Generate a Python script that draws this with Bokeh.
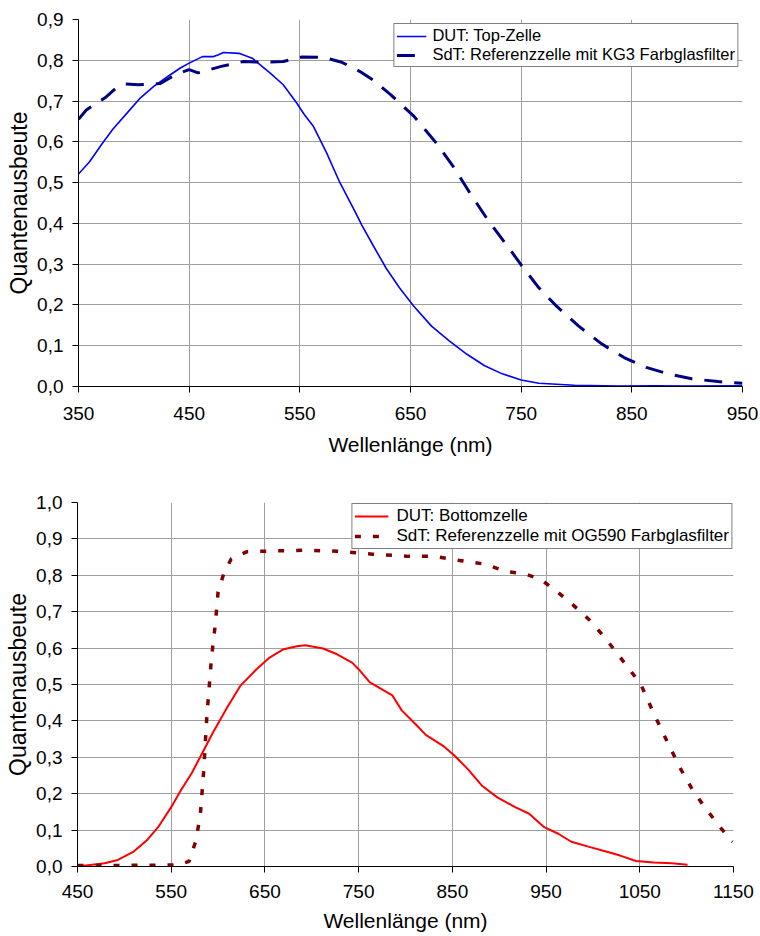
from bokeh.plotting import figure
from bokeh.models import Range1d, FixedTicker, CustomJSTickFormatter
from bokeh.embed import file_html
from bokeh.resources import INLINE

# ---------------- data: top chart ----------------
top_dut_wl = [350, 360, 371, 381, 394, 406, 418, 430, 442, 450, 462, 472, 476, 481,
              495, 507, 523, 535, 547, 554, 562, 574, 586, 600, 606, 616, 628, 640,
              653, 669, 685, 701, 717, 733, 750, 766, 798, 839, 870, 900, 950]
top_dut_qe = [0.521, 0.551, 0.594, 0.631, 0.671, 0.708, 0.736, 0.759, 0.781, 0.793,
              0.809, 0.809, 0.813, 0.819, 0.817, 0.805, 0.769, 0.740, 0.696, 0.667,
              0.639, 0.574, 0.501, 0.428, 0.396, 0.347, 0.290, 0.242, 0.197, 0.148,
              0.112, 0.079, 0.051, 0.031, 0.016, 0.008, 0.003, 0.001, 0.002, 0.001, 0.002]

top_ref_wl = [350, 357, 374, 384, 392, 404, 424, 438, 450, 458, 479, 499, 519, 535,
              552, 572, 588, 604, 616, 632, 653, 673, 689, 705, 721, 738, 750, 766,
              782, 802, 823, 843, 863, 883, 904, 928, 950]
top_ref_qe = [0.655, 0.678, 0.708, 0.732, 0.742, 0.740, 0.743, 0.765, 0.777, 0.769,
              0.785, 0.797, 0.795, 0.797, 0.808, 0.807, 0.795, 0.773, 0.752, 0.716,
              0.663, 0.598, 0.538, 0.469, 0.404, 0.343, 0.298, 0.242, 0.197, 0.148,
              0.104, 0.071, 0.047, 0.031, 0.019, 0.012, 0.008]

top_x_ticks = [350, 450, 550, 650, 750, 850, 950]
top_y_ticks = [0.0, 0.1, 0.2, 0.3, 0.4, 0.5, 0.6, 0.7, 0.8, 0.9]

# ---------------- data: bottom chart ----------------
bot_dut_wl = [450, 479, 493, 510, 524, 536, 550, 560, 572, 584, 595, 610, 624, 641,
              655, 669, 684, 693, 712, 727, 743, 750, 762, 774, 786, 796, 810, 822,
              841, 853, 867, 882, 898, 917, 932, 948, 963, 977, 996, 1013, 1029,
              1046, 1065, 1084, 1101]
bot_dut_qe = [0.000, 0.009, 0.018, 0.041, 0.072, 0.108, 0.163, 0.208, 0.257, 0.316,
              0.370, 0.438, 0.497, 0.542, 0.574, 0.596, 0.605, 0.608, 0.599, 0.583,
              0.560, 0.542, 0.506, 0.488, 0.470, 0.429, 0.393, 0.361, 0.330, 0.303,
              0.266, 0.221, 0.190, 0.163, 0.145, 0.108, 0.090, 0.068, 0.054, 0.042,
              0.030, 0.015, 0.011, 0.009, 0.005]

bot_ref_wl = [450, 500, 557, 569, 576, 581, 584.5, 588, 593, 597, 600, 606, 614, 631,
              660, 693, 727, 765, 803, 832, 851, 884, 908, 927, 944, 960, 979, 996,
              1013, 1032, 1051, 1065, 1080, 1094, 1108, 1122, 1137, 1149]
bot_ref_qe = [0.003, 0.003, 0.004, 0.014, 0.068, 0.140, 0.257, 0.411, 0.574, 0.664,
              0.754, 0.804, 0.845, 0.865, 0.867, 0.869, 0.866, 0.858, 0.852, 0.852,
              0.843, 0.831, 0.810, 0.804, 0.789, 0.759, 0.718, 0.678, 0.628, 0.565,
              0.501, 0.420, 0.339, 0.266, 0.203, 0.154, 0.104, 0.068]

bot_x_ticks = [450, 550, 650, 750, 850, 950, 1050, 1150]
bot_y_ticks = [0.0, 0.1, 0.2, 0.3, 0.4, 0.5, 0.6, 0.7, 0.8, 0.9, 1.0]

x_title = "Wellenlänge (nm)"
y_title = "Quantenausbeute"

FONT = "Liberation Sans"
GRID = "#a0a0a0"


def style(p, xticks, yticks):
    p.xaxis.ticker = FixedTicker(ticks=xticks)
    p.yaxis.ticker = FixedTicker(ticks=yticks)
    p.yaxis.formatter = CustomJSTickFormatter(code="return tick.toFixed(1).replace('.', ',');")
    for ax in (p.xaxis, p.yaxis):
        ax.major_label_text_font = FONT
        ax.major_label_text_font_size = "19px"
        ax.major_label_text_color = "black"
        ax.axis_label_text_font = FONT
        ax.axis_label_text_font_style = "normal"
        ax.axis_label_text_color = "black"
        ax.axis_line_color = "black"
        ax.major_tick_line_color = "black"
        ax.major_tick_in = 0
        ax.major_tick_out = 6
        ax.minor_tick_line_color = None
    p.xaxis.axis_label_text_font_size = "21px"
    p.yaxis.axis_label_text_font_size = "23px"
    p.yaxis.major_label_standoff = 9
    p.yaxis.axis_label_standoff = 2
    p.xgrid.grid_line_color = GRID
    p.ygrid.grid_line_color = GRID
    p.xgrid.ticker = FixedTicker(ticks=xticks)
    p.ygrid.ticker = FixedTicker(ticks=yticks)
    p.outline_line_color = None
    p.background_fill_color = "white"
    p.border_fill_color = "white"


def style_legend(p):
    lg = p.legend[0]
    lg.location = "top_right"
    lg.label_text_font = FONT
    lg.label_text_font_size = "16.5px"
    lg.label_text_color = "black"
    lg.label_height = 18
    lg.glyph_height = 18
    lg.glyph_width = 30
    lg.spacing = 0
    lg.padding = 2
    lg.label_standoff = 6
    lg.border_line_color = "black"
    lg.border_line_width = 1
    lg.background_fill_alpha = 1.0


# ---------------- top figure ----------------
p1 = figure(width=760, height=466, output_backend="svg", toolbar_location=None,
            x_range=Range1d(350, 950), y_range=Range1d(0, 0.9),
            min_border_left=78, min_border_right=18, min_border_top=19,
            min_border_bottom=80)
p1.line(top_dut_wl, top_dut_qe, line_color="#0000ff", line_width=1.6,
        legend_label="DUT: Top-Zelle")
p1.line(top_ref_wl, top_ref_qe, line_color="#000080", line_width=3,
        line_dash="18 12", legend_label="SdT: Referenzzelle mit KG3 Farbglasfilter")
style(p1, top_x_ticks, top_y_ticks)
p1.xaxis.axis_label = x_title
p1.yaxis.axis_label = y_title
p1.xaxis.major_label_standoff = 14
p1.xaxis.axis_label_standoff = 10
style_legend(p1)
p1.legend[0].margin = 4

# ---------------- bottom figure ----------------
p2 = figure(width=760, height=468, output_backend="svg", toolbar_location=None,
            x_range=Range1d(450, 1150), y_range=Range1d(0, 1.0),
            min_border_left=77, min_border_right=27, min_border_top=36,
            min_border_bottom=68)
p2.line(bot_dut_wl, bot_dut_qe, line_color="#ff0000", line_width=2,
        legend_label="DUT: Bottomzelle")
p2.line(bot_ref_wl, bot_ref_qe, line_color="#800000", line_width=3.5,
        line_dash="6 12", legend_label="SdT: Referenzzelle mit OG590 Farbglasfilter")
style(p2, bot_x_ticks, bot_y_ticks)
p2.xaxis.axis_label = x_title
p2.yaxis.axis_label = y_title
p2.xaxis.major_label_standoff = 12
p2.xaxis.axis_label_standoff = 8
style_legend(p2)
lg2 = p2.legend[0]
lg2.label_text_font_size = "17px"
lg2.glyph_width = 34
lg2.label_standoff = 8
lg2.padding = 2
lg2.margin = 1

open("out.html", "w").write(file_html([p1, p2], INLINE))
